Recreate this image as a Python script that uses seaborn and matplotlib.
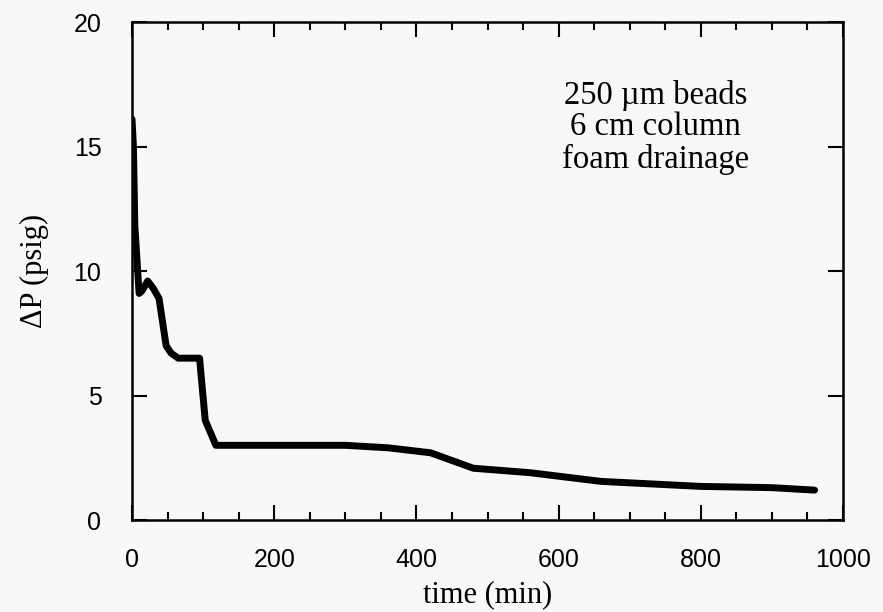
import matplotlib
matplotlib.use("Agg")
import matplotlib.pyplot as plt
from matplotlib.ticker import MultipleLocator, FixedLocator
import seaborn as sns
import pandas as pd

# Pressure drop across the bead column while the foam drains
time_min = [0, 2, 4, 10, 14, 22, 30, 38, 48, 55, 65, 95, 103, 118,
            300, 360, 420, 480, 560, 660, 800, 900, 960]
dp_psig = [16.1, 15.0, 11.8, 9.1, 9.2, 9.6, 9.3, 8.9, 7.0, 6.7, 6.5, 6.5, 4.0, 3.0,
           3.0, 2.9, 2.7, 2.08, 1.9, 1.55, 1.35, 1.3, 1.2]

x_ticks = [0, 200, 400, 600, 800, 1000]
y_ticks = [0, 5, 10, 15, 20]

annotation = "250 \u00b5m beads\n6 cm column\nfoam drainage"

df = pd.DataFrame({"time": time_min, "dp": dp_psig})

sns.set_theme(style="ticks")
plt.rcParams.update({
    "text.color": "black",
    "axes.labelcolor": "black",
    "xtick.color": "black",
    "ytick.color": "black",
    "axes.edgecolor": "black",
})
bg = "#f8f8f8"
fig = plt.figure(figsize=(8.83, 6.12), dpi=100, facecolor=bg)
ax = fig.add_axes([0.1495, 0.1503, 0.8052, 0.8137], facecolor=bg)

sns.lineplot(data=df, x="time", y="dp", sort=False, estimator=None,
             color="black", linewidth=5.0, ax=ax)

ax.set_xlim(0, 1000)
ax.set_ylim(0, 20)
ax.xaxis.set_major_locator(FixedLocator(x_ticks))
ax.xaxis.set_minor_locator(MultipleLocator(50))
ax.yaxis.set_major_locator(FixedLocator(y_ticks))
tick_kw = dict(fontfamily="Liberation Sans", fontsize=18, color="black")
ax.set_xticklabels([str(v) for v in x_ticks], **tick_kw)
ax.set_yticklabels([str(v) for v in y_ticks], **tick_kw)

for s in ax.spines.values():
    s.set_linewidth(1.8)
    s.set_color("black")

ax.tick_params(axis="both", which="both", direction="in", top=True, right=True,
               color="black", width=1.5)
ax.tick_params(axis="x", which="major", length=11, pad=20)
ax.tick_params(axis="x", which="minor", length=6)
ax.tick_params(axis="y", which="major", length=11, pad=22)

ax.set_xlabel("time (min)", family="Liberation Serif", fontsize=22, labelpad=6,
              color="black")
ax.set_ylabel("\u0394P (psig)", family="Liberation Serif", fontsize=22, labelpad=18,
              color="black")

ax.text(0.736, 0.789, annotation, transform=ax.transAxes, ha="center", va="center",
        multialignment="center", family="Liberation Serif", fontsize=23.5,
        linespacing=1.05, color="black")

fig.savefig("out.png", dpi=100, facecolor=bg)
